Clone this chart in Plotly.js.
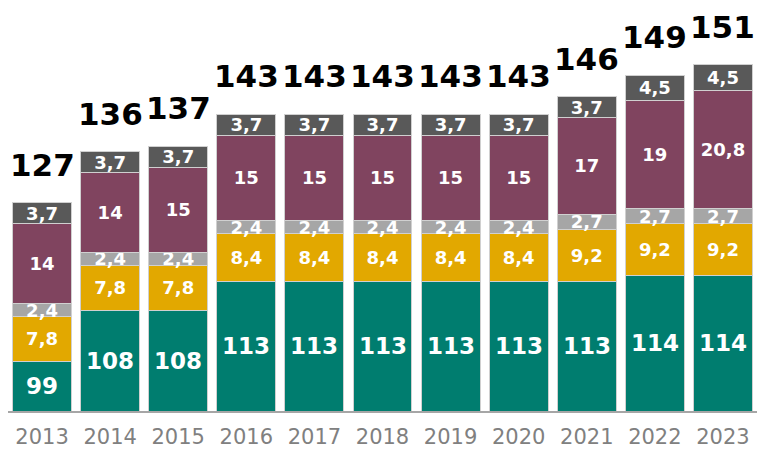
<!DOCTYPE html>
<html><head><meta charset="utf-8">
<script src="https://cdn.plot.ly/plotly-3.0.1.min.js"></script>
<style>html,body{margin:0;padding:0;background:#fff}#chart{width:757px;height:450px}</style>
</head><body><div id="chart"></div>
<script>
const years = ['2013','2014','2015','2016','2017','2018','2019','2020','2021','2022','2023'];
const tealVals   = [99,108,108,113,113,113,113,113,113,114,114];
const yellowVals = [7.8,7.8,7.8,8.4,8.4,8.4,8.4,8.4,9.2,9.2,9.2];
const lgrayVals  = [2.4,2.4,2.4,2.4,2.4,2.4,2.4,2.4,2.7,2.7,2.7];
const purpleVals = [14,14,15,15,15,15,15,15,17,19,20.8];
const dgrayVals  = [3.7,3.7,3.7,3.7,3.7,3.7,3.7,3.7,3.7,4.5,4.5];
const totals     = [127,136,137,143,143,143,143,143,146,149,151];

const AXIS_MIN = 90.2;
const AXIS_MAX = 161.75;
const FONT = 'DejaVu Sans, Verdana, sans-serif';
const fmt = v => String(v).replace('.', ',');
const edge = {color:'#d0d0d0', width:1};

function seg(vals, color, showText){
  return {
    type:'bar', x:years, y:vals,
    marker:{color:color, line:edge},
    text: showText ? vals.map(fmt) : undefined,
    textposition: showText ? 'inside' : 'none',
    insidetextanchor:'middle',
    constraintext:'none',
    textangle:0,
    textfont:{family:FONT, size:18, color:'#ffffff', weight:'bold'},
    hoverinfo:'skip', showlegend:false, cliponaxis:false
  };
}

const data = [
  seg(tealVals, '#007D6F', false),
  seg(yellowVals, '#E2A800', true),
  seg(lgrayVals, '#A6A6A6', true),
  seg(purpleVals, '#80445F', true),
  seg(dgrayVals, '#595959', true)
];

const stackTop = years.map((_, i) => tealVals[i] + yellowVals[i] + lgrayVals[i] + purpleVals[i] + dgrayVals[i]);

const annotations = [];
years.forEach((yr, i) => {
  annotations.push({
    x: i, y: stackTop[i], xref:'x', yref:'y', text: String(totals[i]),
    showarrow:false, yanchor:'bottom', yshift:18,
    font:{family:FONT, size:31, color:'#000000', weight:'bold'}
  });
  annotations.push({
    x: i, y: (AXIS_MIN + tealVals[i]) / 2, xref:'x', yref:'y', text: String(tealVals[i]),
    showarrow:false, yanchor:'middle',
    font:{family:FONT, size:23, color:'#ffffff', weight:'bold'}
  });
});

const layout = {
  width:757, height:450,
  margin:{l:8, r:0, t:5, b:39},
  barmode:'stack', bargap:0.134,
  paper_bgcolor:'#ffffff', plot_bgcolor:'#ffffff',
  xaxis:{
    type:'category', range:[-0.5, 10.5], autorange:false,
    showline:true, linecolor:'#a6a6a6', linewidth:2,
    ticks:'', showgrid:false, zeroline:false, ticklabelstandoff:6,
    tickfont:{family:FONT, size:21, color:'#808080'}
  },
  yaxis:{range:[AXIS_MIN, AXIS_MAX], autorange:false, visible:false, showgrid:false, zeroline:false},
  annotations: annotations,
  showlegend:false
};

Plotly.newPlot('chart', data, layout, {displayModeBar:false, staticPlot:true});
</script>
</body></html>
